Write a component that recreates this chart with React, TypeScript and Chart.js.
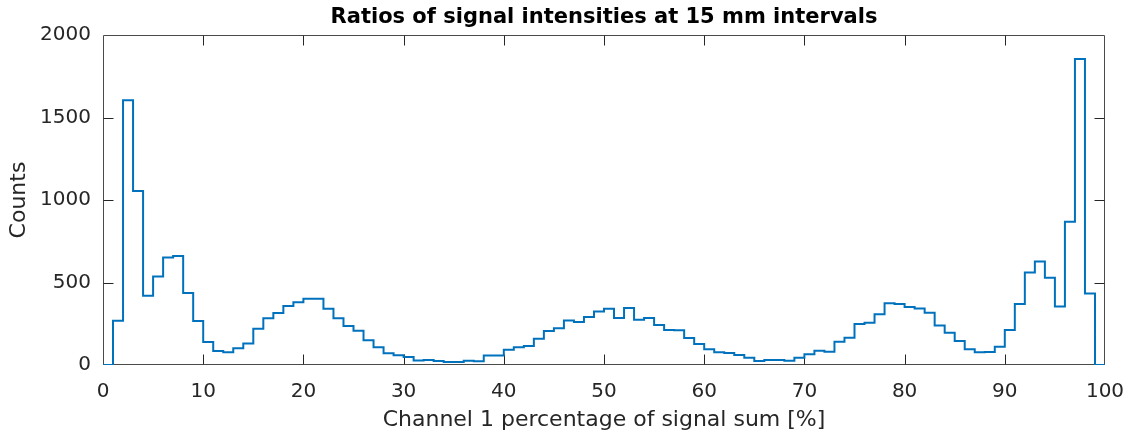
import React, { useEffect, useRef } from 'react';
import { Chart, registerables } from 'chart.js';

Chart.register(...registerables);

// Histogram counts per 1 % bin, bins [0,1), [1,2), ... [99,100]
const counts: number[] = [
  0, 268, 1605, 1054, 420, 537, 652, 660, 436, 266,
  139, 85, 77, 101, 131, 220, 283, 315, 357, 381,
  401, 401, 341, 283, 236, 208, 150, 107, 71, 59,
  48, 28, 30, 24, 18, 18, 26, 22, 57, 57,
  93, 107, 115, 159, 206, 222, 270, 260, 291, 325,
  341, 285, 345, 274, 285, 242, 212, 210, 163, 128,
  96, 77, 73, 61, 44, 24, 30, 30, 26, 44,
  65, 87, 81, 141, 165, 248, 256, 307, 375, 369,
  351, 343, 317, 240, 196, 145, 95, 77, 79, 111,
  212, 369, 561, 628, 529, 355, 868, 1855, 434, 0,
];
const binWidth = 1;

const xTicks: number[] = [0, 10, 20, 30, 40, 50, 60, 70, 80, 90, 100];
const yTicks: number[] = [0, 500, 1000, 1500, 2000];

const titleText = 'Ratios of signal intensities at 15 mm intervals';
const xLabel = 'Channel 1 percentage of signal sum [%]';
const yLabel = 'Counts';

const FONT = "'DejaVu Sans', 'Liberation Sans', sans-serif";
const AXIS_COLOR = '#262626';
const FRAME_COLOR = '#4a4a4a';
const LINE_COLOR = '#0072BD';
const TICK_LEN = 10;

// Box around the plot with inward-pointing ticks on all four sides
const boxPlugin = {
  id: 'boxFrame',
  beforeDatasetsDraw(chart: any) {
    const { ctx, chartArea, scales } = chart;
    const l = Math.round(chartArea.left) + 0.5;
    const r = Math.round(chartArea.right) - 0.5;
    const t = Math.round(chartArea.top) + 0.5;
    const b = Math.round(chartArea.bottom) - 0.5;
    ctx.save();
    ctx.lineWidth = 1;
    ctx.strokeStyle = FRAME_COLOR;
    ctx.beginPath();
    ctx.moveTo(l, t);
    ctx.lineTo(r, t);
    ctx.lineTo(r, b);
    ctx.lineTo(l, b);
    ctx.closePath();
    ctx.stroke();

    ctx.strokeStyle = AXIS_COLOR;
    ctx.beginPath();
    xTicks.slice(1, -1).forEach((v) => {
      const px = Math.round(scales.x.getPixelForValue(v)) + 0.5;
      ctx.moveTo(px, b);
      ctx.lineTo(px, b - TICK_LEN);
      ctx.moveTo(px, t);
      ctx.lineTo(px, t + TICK_LEN);
    });
    yTicks.slice(1, -1).forEach((v) => {
      const py = Math.round(scales.y.getPixelForValue(v)) + 0.5;
      ctx.moveTo(l, py);
      ctx.lineTo(l + TICK_LEN, py);
      ctx.moveTo(r, py);
      ctx.lineTo(r - TICK_LEN, py);
    });
    ctx.stroke();
    ctx.restore();
  },
};

export default function App() {
  const canvasRef = useRef<HTMLCanvasElement | null>(null);

  useEffect(() => {
    document.body.style.margin = '0';
    const canvas = canvasRef.current;
    if (!canvas) return;

    // Stair outline: each point is a bin's left edge, closed at the right edge
    const points = counts.map((c, i) => ({ x: i * binWidth, y: c }));
    points.push({ x: counts.length * binWidth, y: counts[counts.length - 1] });

    const chart = new Chart(canvas, {
      type: 'line',
      data: {
        datasets: [
          {
            data: points,
            stepped: 'before',
            borderColor: LINE_COLOR,
            borderWidth: 2,
            borderJoinStyle: 'miter',
            borderCapStyle: 'butt',
            pointRadius: 0,
            fill: false,
          },
        ],
      },
      options: {
        animation: false,
        responsive: false,
        devicePixelRatio: 1,
        layout: { padding: { left: 0, right: 24, top: 0, bottom: 0 } },
        plugins: {
          legend: { display: false },
          tooltip: { enabled: false },
          title: {
            display: true,
            fullSize: false,
            text: titleText,
            color: '#000000',
            font: { family: FONT, size: 21, weight: 'bold' },
            padding: { top: 5, bottom: 4.8 },
          },
        },
        scales: {
          x: {
            type: 'linear',
            min: 0,
            max: 100,
            grid: { display: false, drawTicks: false },
            border: { display: false },
            afterBuildTicks: (scale: any) => {
              scale.ticks = xTicks.map((v) => ({ value: v }));
            },
            afterFit: (scale: any) => {
              scale.height = 79;
              scale.paddingLeft = 0;
              scale.paddingRight = 0;
            },
            ticks: {
              color: AXIS_COLOR,
              font: { family: FONT, size: 20 },
              padding: 14.4,
              maxRotation: 0,
              autoSkip: false,
              callback: (v: any) => String(v),
            },
            title: {
              display: true,
              text: xLabel,
              color: AXIS_COLOR,
              font: { family: FONT, size: 22 },
              padding: { top: 0, bottom: 11 },
            },
          },
          y: {
            type: 'linear',
            min: 0,
            max: 2000,
            grid: { display: false, drawTicks: false },
            border: { display: false },
            afterBuildTicks: (scale: any) => {
              scale.ticks = yTicks.map((v) => ({ value: v }));
            },
            afterFit: (scale: any) => {
              scale.width = 103;
              scale.paddingTop = 0;
              scale.paddingBottom = 0;
            },
            ticks: {
              color: AXIS_COLOR,
              font: { family: FONT, size: 20 },
              padding: 12,
              autoSkip: false,
              callback: (v: any) => String(v),
            },
            title: {
              display: true,
              text: yLabel,
              color: AXIS_COLOR,
              font: { family: FONT, size: 22 },
              padding: { top: 6, bottom: 0 },
            },
          },
        },
      },
      plugins: [boxPlugin],
    } as any);

    return () => {
      chart.destroy();
    };
  }, []);

  return (
    <div style={{ width: 1129, height: 444 }}>
      <canvas ref={canvasRef} width={1129} height={444} style={{ display: 'block' }} />
    </div>
  );
}
